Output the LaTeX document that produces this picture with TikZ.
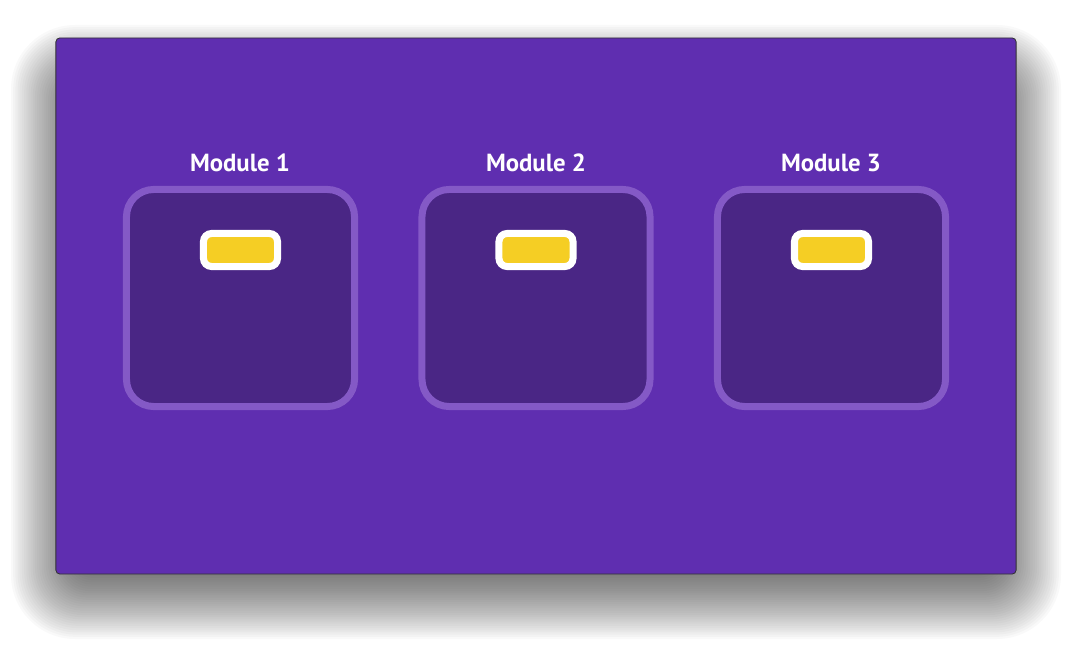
\documentclass[tikz,border=0pt]{standalone}
\usepackage{fontspec}
\setmainfont{PT Sans}

\definecolor{panelpurple}{HTML}{5F2EB0}
\definecolor{boxpurple}{HTML}{4A2685}
\definecolor{edgepurple}{HTML}{8459C6}
\definecolor{tagyellow}{HTML}{F5CE24}

\tikzset{
    panel/.style={draw=black!80, line width=0.6pt, fill=panelpurple, rounded corners=0.1cm,
        minimum width=24cm, minimum height=13.4cm, inner sep=0pt},
    modbox/.style={draw=edgepurple, line width=0.175cm, fill=boxpurple, rounded corners=0.68cm,
        minimum width=5.7cm, minimum height=5.425cm, inner sep=0pt},
    tag/.style={draw=white, line width=0.175cm, fill=tagyellow, rounded corners=0.2cm,
        minimum width=1.85cm, minimum height=0.825cm, inner sep=0pt},
    modlabel/.style={text=white, font=\bfseries\fontsize{17.6}{20}\selectfont}
}

\begin{document}
\begin{tikzpicture}[x=0.025cm, y=-0.025cm]
                \useasboundingbox (0, 0) rectangle (1072, 648);
                % soft shadow under the panel
                \foreach \k in {0,...,39} {
                    \pgfmathsetmacro\d{45-\k*85/39}
                    \pgfmathsetmacro\r{max(2,(\d+46)*0.5)}
                    \fill[black, opacity=0.025, rounded corners=\r pt]
                    (56-\d, 70-\d) rectangle (1016+\d, 594+\d);
                }
                \node[panel] (bg) at (536, 306) {};

                \node[modlabel] (l_1) at (240, 163) {Module 1};
                \node[modlabel] (l_2) at (536, 163) {Module 2};
                \node[modlabel] (l_3) at (831, 163) {Module 3};

                \node[modbox] (m_1) at (240.5, 298) {};
                \node[modbox] (m_2) at (536, 298) {};
                \node[modbox] (m_3) at (831.5, 298) {};

                \node[tag] (t_1) at (240.5, 250) {};
                \node[tag] (t_2) at (536, 250) {};
                \node[tag] (t_3) at (831.5, 250) {};
            \end{tikzpicture}
\end{document}
